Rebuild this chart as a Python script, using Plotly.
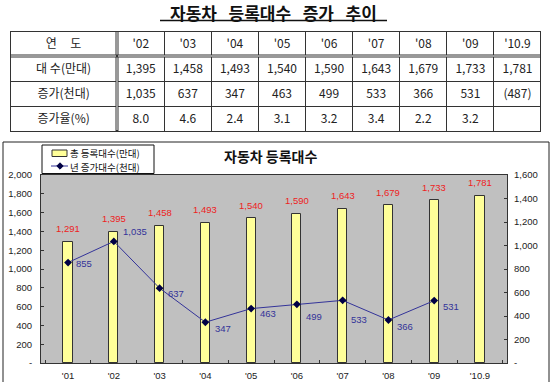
import plotly.graph_objects as go

W, H = 550, 382

# ---------------- data ----------------
table_years = ["'02", "'03", "'04", "'05", "'06", "'07", "'08", "'09", "'10.9"]
table_counts = [1395, 1458, 1493, 1540, 1590, 1643, 1679, 1733, 1781]
table_incr = [1035, 637, 347, 463, 499, 533, 366, 531, 487]
table_rate = [8.0, 4.6, 2.4, 3.1, 3.2, 3.4, 2.2, 3.2, None]
table_row_labels = ["대 수(만대)", "증가(천대)", "증가율(%)"]
table_head_label = "연     도"

chart_years = ["'01", "'02", "'03", "'04", "'05", "'06", "'07", "'08", "'09", "'10.9"]
total_regs = [1291, 1395, 1458, 1493, 1540, 1590, 1643, 1679, 1733, 1781]
annual_incr = [855, 1035, 637, 347, 463, 499, 533, 366, 531, None]

left_ticks = [0, 200, 400, 600, 800, 1000, 1200, 1400, 1600, 1800, 2000]
right_ticks = [0, 200, 400, 600, 800, 1000, 1200, 1400, 1600]

page_title_words = ["자동차", "등록대수", "증가", "추이"]
chart_title = "자동차 등록대수"
legend_bar = "총 등록대수(만대)"
legend_line = "년 증가대수(천대)"


def px(x):
    return x / W


def py(y):
    return 1 - y / H


def fmt(v):
    return "-" if v == 0 else f"{v:,}"


NUMFONT = "Liberation Sans, Arial, Noto Sans CJK KR"
KRFONT = "Noto Sans CJK KR, Liberation Sans"
LINE_COLOR = "#333399"
BAR_FILL = "#FFFF99"

# ---------------- table ----------------
incr_text = [f"{v:,}" for v in table_incr]
incr_text[-1] = f"({incr_text[-1]})"
rate_text = ["" if r is None else f"{r:.1f}" for r in table_rate]
cols = [table_row_labels] + [
    [f"{c:,}", i, r] for c, i, r in zip(table_counts, incr_text, rate_text)
]

fig = go.Figure()
fig.add_trace(go.Table(
    domain=dict(x=[px(10), px(541)], y=[py(133), py(31)]),
    columnwidth=[107] + [47] * 9,
    header=dict(values=[table_head_label] + table_years, height=25, align="center",
                line=dict(color="#333333", width=1), fill=dict(color="white"),
                font=dict(size=12, color="#222222", family=KRFONT)),
    cells=dict(values=cols, height=25, align="center",
               line=dict(color="#333333", width=1), fill=dict(color="white"),
               font=dict(size=12, color="#222222", family=KRFONT)),
))

# ---------------- chart ----------------
fig.add_trace(go.Bar(
    x=chart_years, y=total_regs, name=legend_bar, width=0.2,
    marker=dict(color=BAR_FILL, line=dict(color="#333333", width=1)),
    yaxis="y", xaxis="x", showlegend=False,
))
fig.add_trace(go.Scatter(
    x=chart_years, y=annual_incr, name=legend_line, mode="lines+markers",
    line=dict(color=LINE_COLOR, width=1),
    marker=dict(symbol="diamond", size=6, color="#000044"),
    yaxis="y2", xaxis="x", showlegend=False,
))

annotations = []
for c, v in zip(chart_years, total_regs):
    annotations.append(dict(x=c, y=v, xref="x", yref="y", text=f"{v:,}", showarrow=False,
                            yshift=13, font=dict(size=9.5, color="#EE2222", family=NUMFONT)))

label_offsets = [(16, -1), (21, 10), (16, -5), (18, -6), (17, -5), (17, -12), (16, -19), (17, -6), (17, -6)]
pts = [(c, v) for c, v in zip(chart_years, annual_incr) if v is not None]
for (c, v), (dx, dy) in zip(pts, label_offsets):
    annotations.append(dict(x=c, y=v, xref="x", yref="y2", text=f"{v:,}", showarrow=False,
                            xshift=dx, yshift=dy, font=dict(size=9.5, color=LINE_COLOR, family=NUMFONT)))

page_title = "\u00a0\u00a0\u00a0".join(page_title_words)
annotations.append(dict(x=px(273.5), y=py(11), xref="paper", yref="paper", text=f"<b>{page_title}</b>",
                        showarrow=False, yshift=12.5, font=dict(size=17, color="#111111", family=KRFONT)))
annotations.append(dict(x=px(270), y=py(156), xref="paper", yref="paper", text=f"<b>{chart_title}</b>",
                        showarrow=False, font=dict(size=14, color="#111111", family=KRFONT)))
# legend texts
annotations.append(dict(x=px(69), y=py(152.6), xref="paper", yref="paper", text=legend_bar, xanchor="left",
                        showarrow=False, borderpad=0, font=dict(size=9.5, color="#111111", family=KRFONT)))
annotations.append(dict(x=px(69), y=py(166.6), xref="paper", yref="paper", text=legend_line, xanchor="left",
                        showarrow=False, borderpad=0, font=dict(size=9.5, color="#111111", family=KRFONT)))

dcx, dcy, dr = 60, 166, 3.2
diamond = (f"M {px(dcx)},{py(dcy - dr)} L {px(dcx + dr)},{py(dcy)} "
           f"L {px(dcx)},{py(dcy + dr)} L {px(dcx - dr)},{py(dcy)} Z")

shapes = [
    # title underline
    dict(type="line", xref="paper", yref="paper", x0=px(160), x1=px(387), y0=py(20.5), y1=py(20.5),
         line=dict(color="#111111", width=1.3)),
    # double lines in table
    dict(type="line", xref="paper", yref="paper", x0=px(117), x1=px(117), y0=py(31), y1=py(131),
         line=dict(color="#333333", width=3)),
    dict(type="line", xref="paper", yref="paper", x0=px(117), x1=px(117), y0=py(32), y1=py(130),
         line=dict(color="white", width=1)),
    dict(type="line", xref="paper", yref="paper", x0=px(10), x1=px(541), y0=py(56), y1=py(56),
         line=dict(color="#333333", width=3)),
    dict(type="line", xref="paper", yref="paper", x0=px(11), x1=px(116), y0=py(56), y1=py(56),
         line=dict(color="white", width=1)),
    dict(type="line", xref="paper", yref="paper", x0=px(118), x1=px(540), y0=py(56), y1=py(56),
         line=dict(color="white", width=1)),
    # chart outer frame
    dict(type="rect", xref="paper", yref="paper", x0=px(3), x1=px(549), y0=py(385), y1=py(142),
         line=dict(color="#222222", width=1), fillcolor="rgba(0,0,0,0)"),
    # legend box
    dict(type="rect", xref="paper", yref="paper", x0=px(42), x1=px(154), y0=py(173.5), y1=py(145),
         line=dict(color="#111111", width=1), fillcolor="white"),
    dict(type="rect", xref="paper", yref="paper", x0=px(52), x1=px(67), y0=py(156.5), y1=py(150),
         line=dict(color="#333333", width=1), fillcolor=BAR_FILL),
    dict(type="line", xref="paper", yref="paper", x0=px(51), x1=px(68), y0=py(166), y1=py(166),
         line=dict(color=LINE_COLOR, width=1)),
    dict(type="path", xref="paper", yref="paper", path=diamond,
         line=dict(color="#000044", width=1), fillcolor="#000044"),
]

axis_font = dict(size=9.5, color="#222222", family=NUMFONT)
fig.update_layout(
    width=W, height=H,
    margin=dict(l=0, r=0, t=0, b=0),
    paper_bgcolor="white",
    plot_bgcolor="#C0C0C0",
    bargap=0,
    showlegend=False,
    xaxis=dict(domain=[px(41), px(507)], anchor="y", type="category", tickson="boundaries",
               ticks="inside", ticklen=3, tickcolor="#333333", showline=True, linecolor="#333333",
               mirror=True, showgrid=False, tickfont=axis_font, automargin=False, ticklabelstandoff=4),
    yaxis=dict(domain=[py(363), py(175)], range=[0, 2000], tickvals=left_ticks,
               ticktext=[fmt(v) for v in left_ticks], ticks="inside", ticklen=3, tickcolor="#333333",
               showline=True, linecolor="#333333", mirror=True, showgrid=False, zeroline=False,
               tickfont=axis_font, automargin=False, ticklabelstandoff=6),
    yaxis2=dict(overlaying="y", side="right", anchor="x", range=[0, 1600], tickvals=right_ticks,
                ticktext=[fmt(v) for v in right_ticks], ticks="inside", ticklen=3, tickcolor="#333333",
                showline=False, showgrid=False, zeroline=False, tickfont=axis_font, automargin=False,
                ticklabelstandoff=6),
    annotations=annotations,
    shapes=shapes,
)

fig.write_html("out.html", config={"displayModeBar": False},
               post_script="document.body.style.margin='0';document.body.style.overflow='hidden';")
